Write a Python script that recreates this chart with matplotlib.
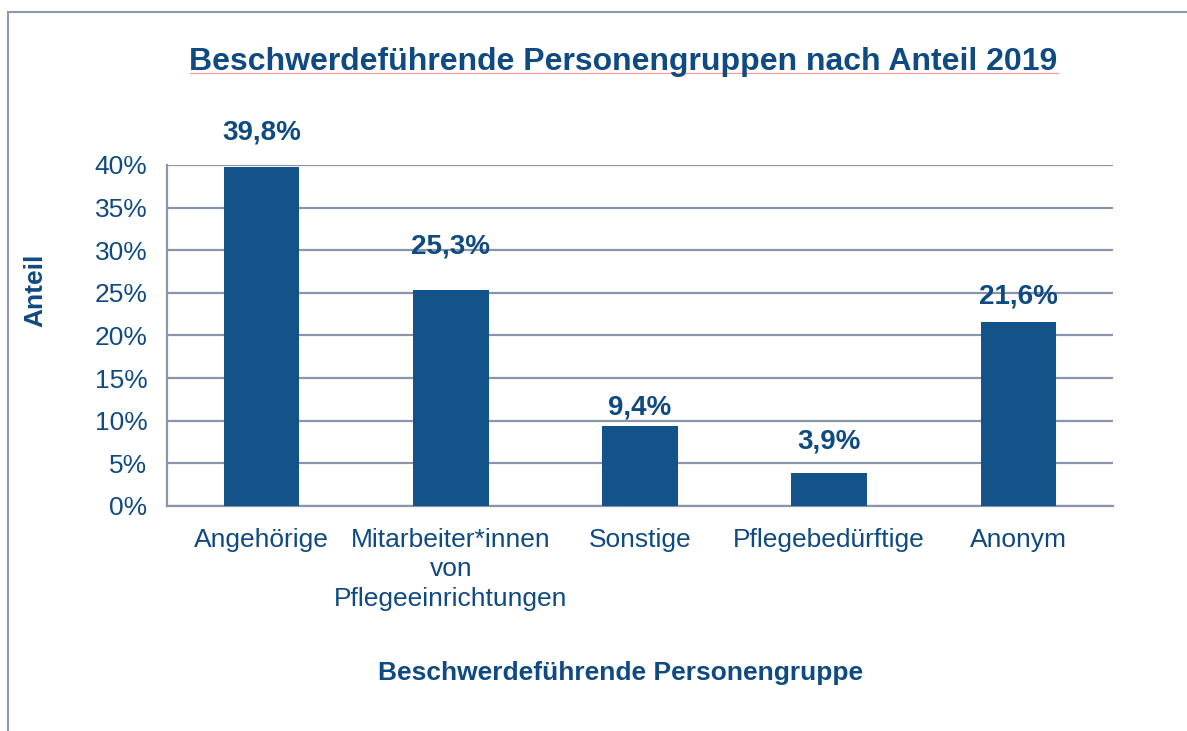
import matplotlib.pyplot as plt
from matplotlib.patches import Rectangle
from matplotlib.lines import Line2D

categories = ['Angehörige', 'Mitarbeiter*innen\nvon\nPflegeeinrichtungen', 'Sonstige',
              'Pflegebedürftige', 'Anonym']
values = [39.8, 25.3, 9.4, 3.9, 21.6]
value_labels = ['39,8%', '25,3%', '9,4%', '3,9%', '21,6%']
yticks = [0, 5, 10, 15, 20, 25, 30, 35, 40]

bar_color = '#13538a'
text_color = '#0f4a82'
grid_color = '#8a95aa'

plt.rcParams['font.family'] = ['Liberation Sans', 'DejaVu Sans']

fig = plt.figure(figsize=(11.87, 7.31), dpi=100)
ax = fig.add_axes([0.1407, 0.3078, 0.797, 0.4665])

x = range(len(categories))
bars = ax.bar(x, values, width=0.40, color=bar_color, zorder=3)

# data labels were placed by hand in the original, so offsets differ a bit
offsets = [24.5, 31.9, 12.9, 22.2, 18.6]
for i, (v, lab) in enumerate(zip(values, value_labels)):
    ax.annotate(lab, (i, v), xytext=(0, offsets[i]), textcoords='offset points',
                ha='center', va='center', fontsize=20, fontweight='bold', color=text_color)

ax.set_xlim(-0.5, len(categories) - 0.5)
ax.set_ylim(0, 40)
ax.set_yticks(yticks)
ax.set_yticklabels([f'{t}%' for t in yticks])
ax.set_xticks(list(x))
ax.set_xticklabels(categories, linespacing=1.3)
ax.tick_params(axis='both', length=0, labelsize=19, labelcolor=text_color)
ax.tick_params(axis='y', pad=14)
ax.tick_params(axis='x', pad=15.5)

ax.grid(axis='y', color=grid_color, linewidth=1.6, zorder=0)
for s in ['top', 'right']:
    ax.spines[s].set_visible(False)
for s in ['left', 'bottom']:
    ax.spines[s].set_color(grid_color)
    ax.spines[s].set_linewidth(1.6)

fig.text(623 / 1187, 1 - 62 / 731, 'Beschwerdeführende Personengruppen nach Anteil 2019',
         ha='center', va='center', fontsize=23, fontweight='bold', color=text_color)
# faint underline under the title as in the source image
fig.add_artist(Line2D([190 / 1187, 1058 / 1187], [1 - 73 / 731, 1 - 73 / 731],
                      color='#ff9a9a', linewidth=0.9))
fig.text(621 / 1187, 1 - 673 / 731, 'Beschwerdeführende Personengruppe',
         ha='center', va='center', fontsize=19, fontweight='bold', color=text_color)
fig.text(35 / 1187, 1 - 290 / 731, 'Anteil', rotation=90,
         ha='center', va='center', fontsize=19, fontweight='bold', color=text_color)

# outer frame of the chart area
fig.add_artist(Rectangle((8 / 1187, -0.1), 1.2, 1 - 12 / 731 + 0.1, fill=False,
                         edgecolor='#8c98b0', linewidth=1.5, transform=fig.transFigure))

fig.savefig('out.png', dpi=100, facecolor='white')
